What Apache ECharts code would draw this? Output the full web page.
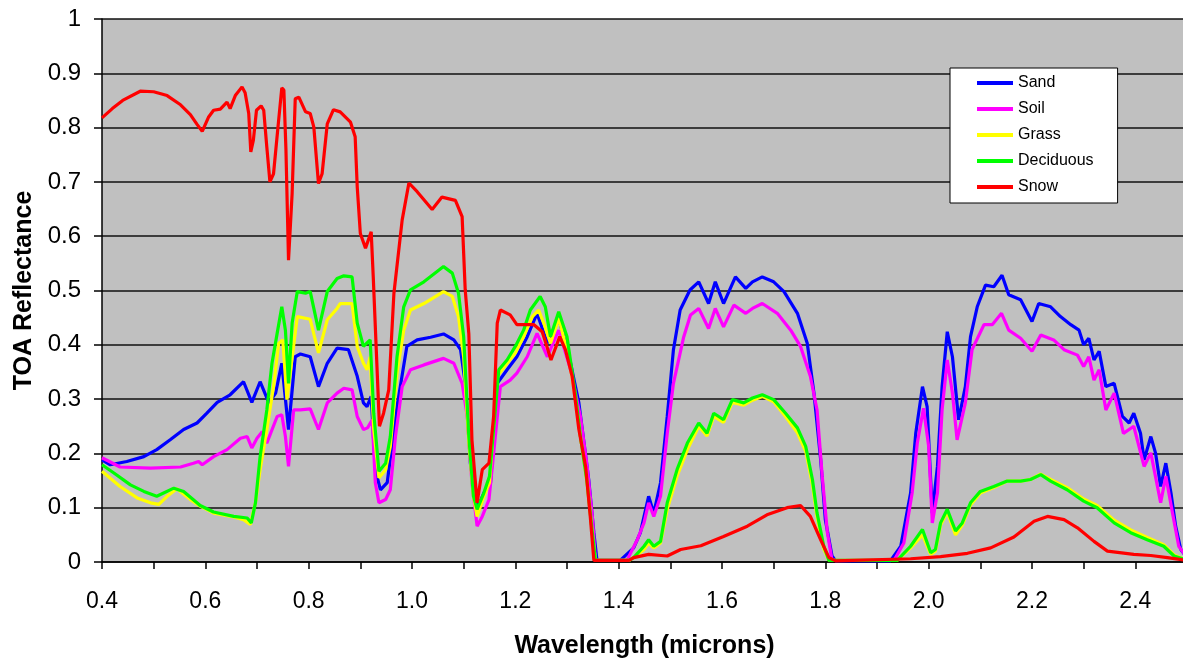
<!DOCTYPE html>
<html>
<head>
<meta charset="utf-8">
<script src="https://cdn.jsdelivr.net/npm/echarts/dist/echarts.min.js"></script>
<style>
  html, body { margin: 0; padding: 0; background: #fff; }
  #chart { width: 1183px; height: 658px; }
</style>
</head>
<body>
<div id="chart"></div>
<script>
// series names + colours (legend order)
const seriesNames = ['Sand', 'Soil', 'Grass', 'Deciduous', 'Snow']
const seriesColors = ['#0000FF', '#FF00FF', '#FFFF00', '#00FF00', '#FF0000']

// [wavelength (microns), TOA reflectance]
const sand = [
  [0.400,0.188],[0.416,0.179],[0.448,0.185],[0.481,0.194],[0.506,0.207],[0.532,0.225],[0.558,0.244],[0.584,0.256],
  [0.603,0.274],[0.623,0.294],[0.648,0.308],[0.674,0.332],[0.690,0.294],[0.706,0.332],[0.723,0.293],[0.736,0.311],
  [0.748,0.366],[0.761,0.244],[0.774,0.378],[0.784,0.383],[0.803,0.378],[0.819,0.323],[0.836,0.366],[0.855,0.394],
  [0.877,0.391],[0.894,0.342],[0.906,0.293],[0.913,0.286],[0.921,0.305],[0.929,0.170],[0.939,0.133],[0.952,0.146],
  [0.961,0.213],[0.971,0.286],[0.990,0.397],[1.010,0.409],[1.036,0.414],[1.061,0.420],[1.081,0.409],[1.094,0.391],
  [1.103,0.329],[1.113,0.182],[1.126,0.097],[1.139,0.127],[1.152,0.146],[1.165,0.329],[1.184,0.354],[1.203,0.378],
  [1.223,0.415],[1.242,0.458],[1.262,0.403],[1.284,0.449],[1.307,0.366],[1.323,0.293],[1.333,0.219],[1.342,0.152],
  [1.352,0.054],[1.358,0.003],[1.403,0.003],[1.429,0.026],[1.442,0.054],[1.458,0.121],[1.468,0.090],[1.481,0.146],
  [1.494,0.268],[1.506,0.391],[1.519,0.464],[1.538,0.501],[1.555,0.516],[1.574,0.476],[1.587,0.516],[1.603,0.476],
  [1.626,0.525],[1.646,0.504],[1.659,0.516],[1.678,0.525],[1.700,0.516],[1.720,0.498],[1.746,0.458],[1.765,0.403],
  [1.778,0.311],[1.791,0.188],[1.800,0.078],[1.813,0.011],[1.820,0.002],[1.926,0.002],[1.946,0.029],[1.965,0.127],
  [1.975,0.237],[1.988,0.323],[1.997,0.286],[2.007,0.090],[2.017,0.176],[2.026,0.323],[2.036,0.424],[2.046,0.378],
  [2.058,0.262],[2.071,0.323],[2.081,0.415],[2.094,0.470],[2.110,0.510],[2.126,0.507],[2.142,0.528],[2.155,0.492],
  [2.178,0.483],[2.200,0.443],[2.213,0.476],[2.236,0.470],[2.255,0.452],[2.275,0.437],[2.291,0.427],[2.300,0.400],
  [2.310,0.412],[2.320,0.372],[2.330,0.388],[2.343,0.323],[2.359,0.329],[2.375,0.268],[2.388,0.256],[2.397,0.274],
  [2.410,0.237],[2.417,0.188],[2.430,0.231],[2.439,0.201],[2.449,0.139],[2.459,0.182],[2.469,0.127],[2.478,0.066],
  [2.488,0.023],[2.500,0.008]
]

const soil = [
  [0.400,0.192],[0.435,0.175],[0.494,0.173],[0.552,0.175],[0.577,0.182],[0.587,0.185],[0.594,0.179],[0.616,0.194],
  [0.642,0.207],[0.668,0.228],[0.681,0.231],[0.690,0.210],[0.700,0.228],[0.710,0.240],[0.719,0.219],[0.739,0.268],
  [0.748,0.271],[0.755,0.231],[0.761,0.176],[0.771,0.280],[0.784,0.280],[0.803,0.282],[0.819,0.244],[0.836,0.293],
  [0.855,0.311],[0.868,0.320],[0.884,0.317],[0.894,0.268],[0.906,0.244],[0.914,0.247],[0.923,0.262],[0.929,0.146],
  [0.936,0.109],[0.949,0.115],[0.958,0.133],[0.968,0.231],[0.981,0.323],[0.997,0.354],[1.023,0.363],[1.061,0.375],
  [1.081,0.366],[1.097,0.329],[1.107,0.268],[1.116,0.146],[1.126,0.066],[1.136,0.084],[1.149,0.115],[1.171,0.323],
  [1.190,0.335],[1.203,0.348],[1.223,0.378],[1.242,0.421],[1.262,0.378],[1.284,0.427],[1.307,0.354],[1.326,0.268],
  [1.339,0.176],[1.349,0.084],[1.355,0.003],[1.416,0.003],[1.436,0.041],[1.449,0.072],[1.458,0.109],[1.468,0.084],
  [1.481,0.121],[1.494,0.237],[1.506,0.329],[1.526,0.415],[1.539,0.455],[1.555,0.467],[1.574,0.430],[1.587,0.467],
  [1.603,0.433],[1.623,0.473],[1.646,0.458],[1.659,0.467],[1.678,0.476],[1.707,0.458],[1.733,0.427],[1.752,0.397],
  [1.771,0.342],[1.784,0.280],[1.794,0.158],[1.804,0.054],[1.813,0.003],[1.933,0.003],[1.952,0.035],[1.968,0.127],
  [1.978,0.219],[1.990,0.283],[2.000,0.213],[2.007,0.072],[2.017,0.127],[2.026,0.280],[2.036,0.372],[2.046,0.311],
  [2.055,0.225],[2.071,0.293],[2.084,0.391],[2.107,0.437],[2.123,0.437],[2.141,0.458],[2.155,0.427],[2.178,0.412],
  [2.200,0.388],[2.217,0.418],[2.242,0.409],[2.262,0.391],[2.288,0.381],[2.300,0.360],[2.310,0.378],[2.320,0.335],
  [2.330,0.354],[2.343,0.280],[2.359,0.311],[2.377,0.237],[2.397,0.250],[2.417,0.176],[2.430,0.201],[2.449,0.109],
  [2.459,0.158],[2.472,0.090],[2.484,0.029],[2.500,0.008]
]

const grass = [
  [0.400,0.167],[0.435,0.139],[0.468,0.118],[0.494,0.109],[0.510,0.106],[0.526,0.121],[0.545,0.135],[0.571,0.115],
  [0.590,0.103],[0.616,0.090],[0.655,0.083],[0.674,0.078],[0.687,0.069],[0.697,0.109],[0.706,0.170],[0.719,0.244],
  [0.732,0.323],[0.742,0.403],[0.750,0.409],[0.758,0.299],[0.765,0.354],[0.778,0.452],[0.803,0.447],[0.819,0.385],
  [0.836,0.446],[0.855,0.467],[0.861,0.476],[0.884,0.476],[0.894,0.397],[0.906,0.366],[0.913,0.354],[0.919,0.378],
  [0.926,0.244],[0.936,0.155],[0.949,0.170],[0.958,0.213],[0.971,0.348],[0.984,0.427],[0.997,0.464],[1.023,0.476],
  [1.061,0.498],[1.078,0.489],[1.090,0.452],[1.100,0.378],[1.110,0.219],[1.119,0.121],[1.126,0.084],[1.139,0.121],
  [1.150,0.146],[1.165,0.342],[1.184,0.366],[1.200,0.385],[1.216,0.415],[1.233,0.452],[1.245,0.464],[1.255,0.440],
  [1.268,0.403],[1.284,0.449],[1.303,0.378],[1.316,0.305],[1.326,0.231],[1.339,0.146],[1.349,0.054],[1.355,0.003],
  [1.420,0.003],[1.429,0.008],[1.449,0.023],[1.458,0.035],[1.468,0.026],[1.481,0.035],[1.494,0.097],[1.513,0.158],
  [1.533,0.207],[1.555,0.250],[1.571,0.232],[1.584,0.268],[1.603,0.257],[1.620,0.294],[1.642,0.289],[1.659,0.298],
  [1.678,0.305],[1.700,0.295],[1.723,0.268],[1.746,0.238],[1.762,0.204],[1.775,0.143],[1.784,0.083],[1.797,0.024],
  [1.807,0.003],[1.939,0.003],[1.965,0.026],[1.988,0.050],[2.004,0.014],[2.013,0.020],[2.023,0.068],[2.036,0.092],
  [2.052,0.050],[2.065,0.068],[2.081,0.105],[2.100,0.127],[2.126,0.137],[2.152,0.149],[2.178,0.149],[2.197,0.152],
  [2.217,0.162],[2.236,0.152],[2.268,0.137],[2.300,0.116],[2.326,0.104],[2.359,0.077],[2.391,0.059],[2.423,0.045],
  [2.455,0.032],[2.475,0.013],[2.500,0.003]
]

const deciduous = [
  [0.400,0.179],[0.423,0.164],[0.455,0.142],[0.481,0.130],[0.506,0.121],[0.539,0.136],[0.558,0.130],[0.590,0.104],
  [0.616,0.092],[0.655,0.084],[0.681,0.081],[0.689,0.072],[0.697,0.109],[0.706,0.194],[0.719,0.280],[0.729,0.366],
  [0.739,0.421],[0.748,0.470],[0.755,0.427],[0.761,0.329],[0.768,0.440],[0.778,0.498],[0.794,0.495],[0.803,0.498],
  [0.819,0.427],[0.836,0.498],[0.855,0.522],[0.868,0.527],[0.884,0.525],[0.894,0.440],[0.906,0.397],[0.919,0.409],
  [0.926,0.274],[0.936,0.167],[0.949,0.182],[0.958,0.231],[0.971,0.378],[0.984,0.470],[0.997,0.501],[1.023,0.516],
  [1.061,0.544],[1.078,0.532],[1.090,0.495],[1.100,0.415],[1.110,0.231],[1.119,0.121],[1.126,0.097],[1.139,0.127],
  [1.150,0.158],[1.168,0.354],[1.184,0.372],[1.200,0.397],[1.216,0.427],[1.229,0.464],[1.248,0.489],[1.258,0.470],
  [1.268,0.415],[1.284,0.461],[1.300,0.415],[1.316,0.311],[1.326,0.231],[1.339,0.146],[1.349,0.054],[1.355,0.003],
  [1.420,0.003],[1.429,0.008],[1.449,0.029],[1.458,0.041],[1.468,0.029],[1.481,0.038],[1.494,0.109],[1.513,0.170],
  [1.533,0.219],[1.555,0.256],[1.571,0.237],[1.584,0.274],[1.603,0.262],[1.620,0.299],[1.642,0.293],[1.659,0.302],
  [1.678,0.308],[1.700,0.299],[1.723,0.274],[1.746,0.247],[1.762,0.213],[1.775,0.152],[1.784,0.090],[1.797,0.029],
  [1.807,0.003],[1.939,0.003],[1.965,0.029],[1.988,0.060],[2.004,0.017],[2.013,0.023],[2.023,0.072],[2.036,0.097],
  [2.052,0.057],[2.065,0.072],[2.081,0.109],[2.100,0.130],[2.126,0.139],[2.152,0.149],[2.178,0.149],[2.197,0.152],
  [2.217,0.161],[2.236,0.149],[2.268,0.133],[2.300,0.112],[2.326,0.100],[2.359,0.072],[2.391,0.054],[2.423,0.041],
  [2.455,0.029],[2.475,0.011],[2.500,0.003]
]

const snow = [
  [0.400,0.818],[0.420,0.835],[0.440,0.850],[0.474,0.867],[0.500,0.866],[0.526,0.859],[0.552,0.842],[0.571,0.824],
  [0.584,0.806],[0.594,0.793],[0.606,0.819],[0.616,0.832],[0.629,0.834],[0.642,0.847],[0.648,0.835],[0.658,0.859],
  [0.671,0.875],[0.677,0.864],[0.684,0.826],[0.688,0.755],[0.693,0.777],[0.699,0.832],[0.708,0.840],[0.713,0.832],
  [0.719,0.764],[0.725,0.700],[0.732,0.715],[0.740,0.795],[0.748,0.873],[0.752,0.869],[0.756,0.760],[0.761,0.556],
  [0.768,0.679],[0.774,0.853],[0.781,0.856],[0.794,0.829],[0.803,0.826],[0.810,0.801],[0.819,0.697],[0.826,0.715],
  [0.836,0.807],[0.848,0.833],[0.861,0.829],[0.881,0.810],[0.890,0.783],[0.894,0.691],[0.900,0.605],[0.910,0.578],
  [0.921,0.608],[0.925,0.525],[0.937,0.250],[0.945,0.274],[0.955,0.317],[0.965,0.495],[0.981,0.630],[0.994,0.698],
  [1.010,0.682],[1.039,0.649],[1.058,0.672],[1.084,0.666],[1.097,0.636],[1.103,0.501],[1.110,0.420],[1.116,0.225],
  [1.126,0.109],[1.136,0.170],[1.149,0.182],[1.158,0.268],[1.165,0.440],[1.171,0.464],[1.190,0.455],[1.203,0.437],
  [1.236,0.437],[1.252,0.424],[1.262,0.394],[1.269,0.372],[1.286,0.415],[1.297,0.391],[1.310,0.342],[1.323,0.244],
  [1.336,0.176],[1.345,0.084],[1.352,0.003],[1.420,0.003],[1.429,0.008],[1.458,0.014],[1.494,0.011],[1.520,0.023],
  [1.559,0.030],[1.603,0.047],[1.649,0.066],[1.687,0.087],[1.726,0.100],[1.752,0.104],[1.771,0.084],[1.791,0.041],
  [1.807,0.008],[1.820,0.002],[1.965,0.006],[2.023,0.010],[2.075,0.016],[2.120,0.026],[2.165,0.046],[2.204,0.075],
  [2.230,0.084],[2.262,0.078],[2.288,0.063],[2.320,0.038],[2.346,0.020],[2.397,0.014],[2.430,0.012],[2.462,0.008],
  [2.500,0.003]
]

const seriesData = [sand, soil, grass, deciduous, snow]

const FONT = '"Liberation Sans", Arial, sans-serif'

const chart = echarts.init(document.getElementById('chart'))

const option = {
  animation: false,
  backgroundColor: '#fff',
  grid: {
    left: 102,
    top: 19,
    right: -4,
    bottom: 96,
    // no auto shrinking, the plot runs off the right edge like the reference
    outerBoundsMode: 'none',
    containLabel: false,
    show: true,
    backgroundColor: '#C0C0C0',
    borderWidth: 0
  },
  legend: {
    orient: 'vertical',
    left: 950,
    top: 68,
    backgroundColor: '#fff',
    borderColor: '#000',
    borderWidth: 1,
    padding: [7, 24, 8, 27],
    itemWidth: 36,
    itemHeight: 14,
    itemGap: 10,
    // flat bar icon, aspect kept so it stays thin
    icon: 'path://M0,0 L36,0 L36,4 L0,4 Z',
    textStyle: { fontFamily: FONT, fontSize: 16, color: '#000' },
    data: seriesNames
  },
  xAxis: {
    type: 'value',
    min: 0.4,
    max: 2.5,
    interval: 0.1,
    name: 'Wavelength (microns)',
    nameLocation: 'middle',
    nameGap: 72,
    nameTextStyle: { fontFamily: FONT, fontSize: 25, fontWeight: 'bold', color: '#000' },
    axisLine: { show: true, onZero: false, lineStyle: { color: '#000', width: 1.5 } },
    axisTick: { show: true, length: 7, lineStyle: { color: '#000', width: 1.5 } },
    axisLabel: {
      margin: 28,
      fontFamily: FONT,
      fontSize: 23,
      color: '#000',
      formatter: function (v) {
        const t = Math.round(v * 10)
        return t % 2 === 0 ? (t / 10).toFixed(1) : ''
      }
    },
    splitLine: { show: false }
  },
  yAxis: {
    type: 'value',
    min: 0,
    max: 1,
    interval: 0.1,
    name: 'TOA Reflectance',
    nameLocation: 'middle',
    nameGap: 64,
    nameTextStyle: { fontFamily: FONT, fontSize: 25, fontWeight: 'bold', color: '#000' },
    axisLine: { show: true, lineStyle: { color: '#000', width: 1.5 } },
    axisTick: { show: true, length: 8, lineStyle: { color: '#000', width: 1.5 } },
    axisLabel: { margin: 21, fontFamily: FONT, fontSize: 24, color: '#000' },
    splitLine: { show: true, lineStyle: { color: '#111', width: 1.5 } }
  },
  series: seriesNames.map(function (name, i) {
    return {
      name: name,
      type: 'line',
      data: seriesData[i],
      showSymbol: false,
      symbol: 'none',
      color: seriesColors[i],
      lineStyle: { color: seriesColors[i], width: 3.2 },
      z: 2 + i
    }
  })
}

chart.setOption(option)
</script>
</body>
</html>
